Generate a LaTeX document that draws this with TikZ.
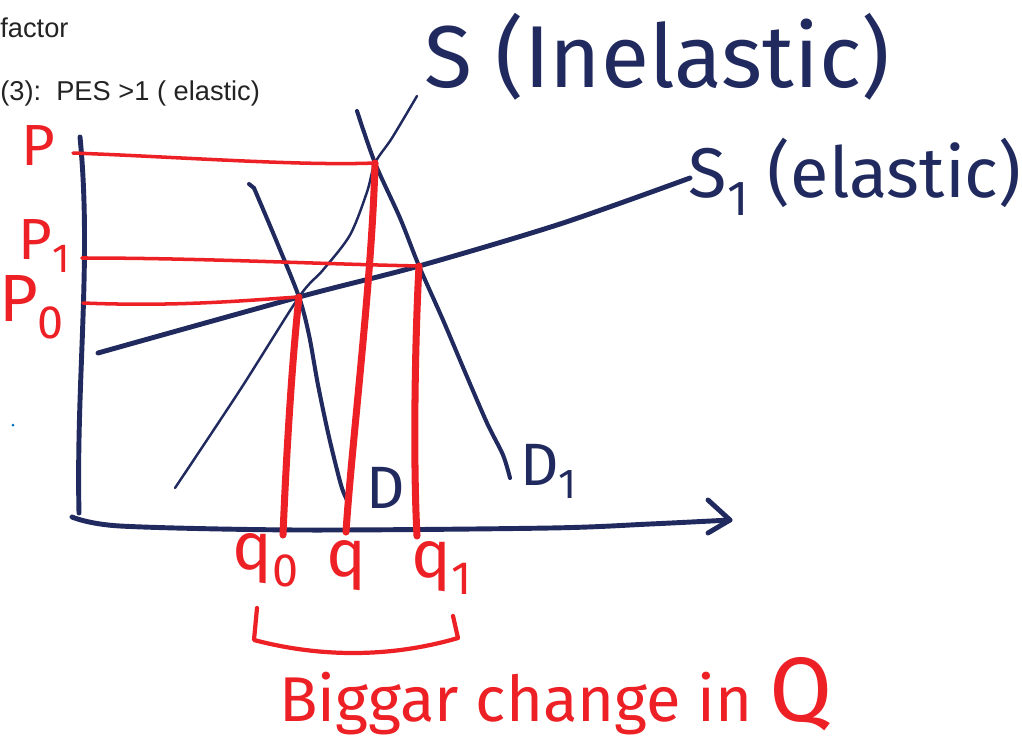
\documentclass[tikz,border=0pt]{standalone}
\usepackage{fontspec}
\setsansfont{Liberation Sans}
\newfontfamily\hand{Fira Sans}
\usepackage{tikz}
\usetikzlibrary{positioning}
\definecolor{ink}{RGB}{32,42,94}
\definecolor{pen}{RGB}{236,32,37}
\definecolor{print}{RGB}{35,35,35}
\definecolor{speck}{RGB}{0,112,192}

\begin{document}
\begin{tikzpicture}[
  x=0.2mm, y=-0.2mm,
  axis/.style={draw=ink, line width=2.8pt, line cap=round, line join=round},
  curve/.style={draw=ink, line width=2.3pt, line cap=round, line join=round},
  thincurve/.style={draw=ink, line width=1.4pt, line cap=round, line join=round},
  guide/.style={draw=pen, line width=2pt, line cap=round},
  drop/.style={draw=pen, line width=4pt, line cap=round},
  bracket/.style={draw=pen, line width=2.4pt, line cap=round, line join=round},
  inklbl/.style={text=ink, inner sep=0pt, font=\hand\fontsize{34}{38}\selectfont},
  penlbl/.style={text=pen, inner sep=0pt, font=\hand\fontsize{33}{36}\selectfont},
  printlbl/.style={text=print, inner sep=0pt, anchor=base west,
    font=\sffamily\fontsize{15.5}{18}\selectfont},
]
  \useasboundingbox (0,0) rectangle (1022,753);

  % header lines
  \node[printlbl] (hdr1) at (0,38) {factor};
  \node[printlbl] (hdr2) at (0,100) {(3):\ \ PES >1 ( elastic)};
  \fill[speck] (13,425) circle (1.5);

  % equilibrium points
  \coordinate (E0) at (299,297);
  \coordinate (E)  at (375,163);
  \coordinate (E1) at (419,266);

  % axes
  \coordinate (yTop) at (80,137);
  \coordinate (yBot) at (79,513);
  \coordinate (xL) at (72,517);
  \coordinate (xR) at (730,520);
  \draw[axis] (yTop) .. controls (92,260) and (76,380) .. (yBot);
  \draw[axis] plot[smooth] coordinates {(xL) (120,526) (300,530) (550,528) (650,524) (xR)};
  \draw[axis] (708,500) -- (xR) -- (708,533);

  % supply and demand
  \draw[thincurve] plot[smooth] coordinates {(175,488) (240,390) (E0) (323,270) (350,235) (367,192) (E) (392,138) (417,96)};
  \draw[axis] plot[smooth] coordinates {(98,353) (E0) (E1) (560,224) (690,178)};
  \draw[curve] (249,184) -- (254,188);
  \draw[curve] plot[smooth] coordinates {(254,188) (276,240) (E0) (309,335) (318,385) (329,437) (341,485) (347,500)};
  \draw[curve] plot[smooth] coordinates {(357,111) (E) (400,218) (E1) (443,320) (465,372) (487,423) (503,455) (510,478)};

  % price guides
  \coordinate (pP)  at (73,153);
  \coordinate (pP1) at (82,258);
  \coordinate (pP0) at (83,303);
  \draw[guide] (pP) .. controls (180,157) and (300,166) .. (E);
  \draw[guide] (pP1) .. controls (200,258) and (320,264) .. (E1);
  \draw[guide] (pP0) .. controls (180,307) and (250,300) .. (E0);

  % quantity drops
  \coordinate (dq0) at (283,535);
  \coordinate (dq)  at (346,532);
  \coordinate (dq1) at (417,536);
  \draw[drop] (E0) .. controls (292,360) and (286,460) .. (dq0);
  \draw[drop] (E) .. controls (372,280) and (352,440) .. (dq);
  \draw[drop] (E1) .. controls (415,340) and (413,460) .. (dq1);

  % labels
  \node[inklbl, font=\hand\fontsize{50}{54}\selectfont] (sIn) at (657,57) {S (Inelastic)};
  \node[inklbl, font=\hand\fontsize{40}{44}\selectfont] (sEl) at (855,177) {S\textsubscript{1} (elastic)};
  \node[inklbl] (dLbl)  at (386,488) {D};
  \node[inklbl] (d1Lbl) at (549,471) {D\textsubscript{1}};

  \node[penlbl] (pLbl)  at (38,146) {P};
  \node[penlbl] (p1Lbl) at (45,246) {P\textsubscript{1}};
  \node[penlbl, font=\hand\fontsize{38}{42}\selectfont] (p0Lbl) at (32,307) {P\textsubscript{0}};
  \node[penlbl, font=\hand\fontsize{38}{42}\selectfont] (q0Lbl) at (266,560) {q\textsubscript{0}};
  \node[penlbl, font=\hand\fontsize{38}{42}\selectfont] (qLbl)  at (346,566) {q};
  \node[penlbl, font=\hand\fontsize{38}{42}\selectfont] (q1Lbl) at (442,568) {q\textsubscript{1}};

  % brace under quantities
  \draw[bracket] (257,608) -- (254,640) .. controls (330,660) and (400,655) .. (458,638) -- (453,616);
  \node[penlbl, font=\hand\fontsize{36}{40}\selectfont] (note) at (556,696)
    {Biggar change in {\fontsize{52}{54}\selectfont Q}};
\end{tikzpicture}
\end{document}
